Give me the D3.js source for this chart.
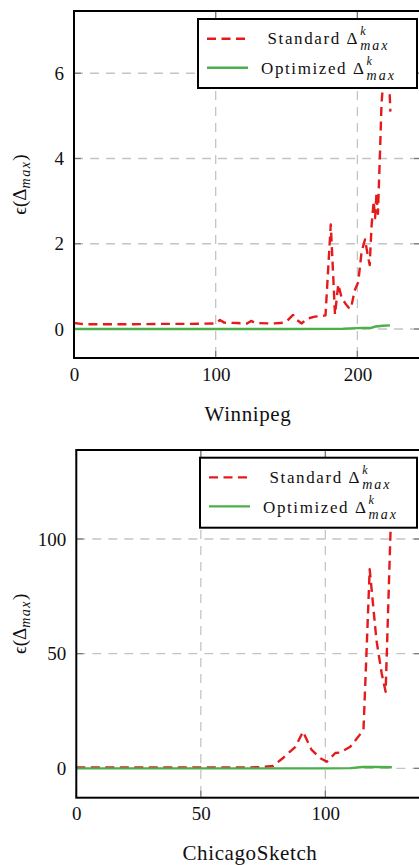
<!DOCTYPE html>
<html>
<head>
<meta charset="utf-8">
<script src="https://cdn.jsdelivr.net/npm/d3@7"></script>
<style>
  html, body { margin: 0; padding: 0; background: #fff; }
  svg { display: block; }
</style>
</head>
<body>
<svg id="chart" width="419" height="865"></svg>
<script>
// ---- Winnipeg ----
const winStdX = [0, 5, 10, 20, 40, 60, 80, 100, 103, 106, 115, 122, 125, 128, 140, 146, 150, 154.6, 157, 160.7, 164.2, 170, 173.6, 177.5, 181.2, 183, 184.2, 186.5, 188.9, 191.5, 193.9, 195.5, 198, 200.6, 203, 205.4, 207.5, 208.7, 210, 211.5, 212.5, 213.5, 214.5, 215.3, 216, 217, 219, 221, 222, 223.3];
const winStdY = [0.14, 0.12, 0.11, 0.11, 0.11, 0.12, 0.12, 0.13, 0.21, 0.15, 0.14, 0.13, 0.19, 0.14, 0.13, 0.14, 0.18, 0.33, 0.22, 0.13, 0.24, 0.29, 0.3, 0.32, 2.45, 1.2, 0.34, 1.05, 0.73, 0.6, 0.5, 0.48, 0.9, 1.1, 1.82, 2.1, 1.7, 1.5, 2.41, 3.0, 2.6, 3.2, 2.7, 3.5, 4.17, 5.26, 6.2, 6.78, 6.2, 5.1];
const winOptX = [0, 50, 100, 150, 190, 200, 205, 210, 213, 218, 223];
const winOptY = [0, 0, 0, 0, 0.005, 0.02, 0.025, 0.03, 0.06, 0.075, 0.085];
const winXTicks = [0, 100, 200];
const winYTicks = [0, 2, 4, 6];

// ---- ChicagoSketch ----
const chiStdX = [0, 10, 20, 30, 40, 50, 60, 70, 75, 79, 83, 88, 91, 94.5, 98, 100.6, 104, 106, 110, 115.3, 116.5, 117.8, 120.5, 122.6, 124.2, 126.8];
const chiStdY = [0.4, 0.4, 0.4, 0.4, 0.4, 0.4, 0.4, 0.4, 0.6, 1.0, 4.5, 9.4, 16, 8, 4.4, 2.9, 6.7, 6.9, 9.4, 16.7, 50, 86.8, 56, 41.5, 33.4, 126];
const chiOptX = [0, 50, 100, 110, 115, 120, 126.7];
const chiOptY = [0, 0, 0, 0.1, 0.6, 0.6, 0.5];
const chiXTicks = [0, 50, 100];
const chiYTicks = [0, 50, 100];

const seriesNames = ["Standard", "Optimized"];
const RED = "#e41a1c", GREEN = "#4daf4a";
const FONT = "'Liberation Serif', 'DejaVu Serif', serif";

const svg = d3.select("#chart");

function panel(cfg) {
  const g = svg.append("g");
  const x = d3.scaleLinear().domain(cfg.xDomain).range([cfg.left, cfg.right]);
  const y = d3.scaleLinear().domain(cfg.yDomain).range([cfg.bottom, cfg.top]);

  // grid
  g.selectAll(".gx").data(cfg.xTicks.filter(d => d > cfg.xDomain[0])).enter().append("line")
    .attr("x1", d => x(d)).attr("x2", d => x(d)).attr("y1", cfg.top).attr("y2", cfg.bottom)
    .attr("stroke", "#c4c4c4").attr("stroke-width", 1.3).attr("stroke-dasharray", "9,7");
  g.selectAll(".gy").data(cfg.yTicks).enter().append("line")
    .attr("x1", cfg.left).attr("x2", cfg.right).attr("y1", d => y(d)).attr("y2", d => y(d))
    .attr("stroke", "#c4c4c4").attr("stroke-width", 1.3).attr("stroke-dasharray", "9,7");

  // inward tick marks on all four sides
  const tl = 7;
  cfg.xTicks.forEach(d => {
    g.append("line").attr("x1", x(d)).attr("x2", x(d)).attr("y1", cfg.bottom).attr("y2", cfg.bottom - tl)
      .attr("stroke", "#777").attr("stroke-width", 1.2);
    g.append("line").attr("x1", x(d)).attr("x2", x(d)).attr("y1", cfg.top).attr("y2", cfg.top + tl)
      .attr("stroke", "#777").attr("stroke-width", 1.2);
  });
  cfg.yTicks.forEach(d => {
    g.append("line").attr("x1", cfg.left).attr("x2", cfg.left + tl).attr("y1", y(d)).attr("y2", y(d))
      .attr("stroke", "#777").attr("stroke-width", 1.2);
    g.append("line").attr("x1", cfg.right).attr("x2", cfg.right - tl).attr("y1", y(d)).attr("y2", y(d))
      .attr("stroke", "#777").attr("stroke-width", 1.2);
  });

  // data
  const clipId = "clip" + cfg.id;
  svg.append("clipPath").attr("id", clipId).append("rect")
    .attr("x", cfg.left).attr("y", cfg.top).attr("width", cfg.right - cfg.left).attr("height", cfg.bottom - cfg.top);
  const line = d3.line().x(d => x(d[0])).y(d => y(d[1]));
  const std = d3.zip(cfg.stdX, cfg.stdY);
  const opt = d3.zip(cfg.optX, cfg.optY);
  const dg = g.append("g").attr("clip-path", `url(#${clipId})`);
  dg.append("path").attr("d", line(std)).attr("fill", "none").attr("stroke", RED)
    .attr("stroke-width", 2.4).attr("stroke-dasharray", "9,5.5").attr("stroke-linejoin", "round");
  dg.append("path").attr("d", line(opt)).attr("fill", "none").attr("stroke", GREEN)
    .attr("stroke-width", 2.4).attr("stroke-linejoin", "round");

  // frame
  g.append("rect").attr("x", cfg.left).attr("y", cfg.top)
    .attr("width", cfg.right - cfg.left).attr("height", cfg.bottom - cfg.top)
    .attr("fill", "none").attr("stroke", "#000").attr("stroke-width", 2);

  // tick labels
  const ax = g.append("g").attr("transform", `translate(0,${cfg.bottom})`)
    .call(d3.axisBottom(x).tickValues(cfg.xTicks).tickSize(0).tickPadding(cfg.xPad).tickFormat(d3.format("d")));
  ax.select(".domain").remove();
  ax.selectAll("text").style("font-family", FONT).style("font-size", "19px").attr("fill", "#111");
  const ay = g.append("g").attr("transform", `translate(${cfg.left},0)`)
    .call(d3.axisLeft(y).tickValues(cfg.yTicks).tickSize(0).tickPadding(10).tickFormat(d3.format("d")));
  ay.select(".domain").remove();
  ay.selectAll("text").style("font-family", FONT).style("font-size", "19px").attr("fill", "#111");

  // x label
  g.append("text").attr("x", cfg.xLabelX).attr("y", cfg.xLabelY).attr("text-anchor", "middle")
    .style("font-family", FONT).style("font-size", "21px").attr("letter-spacing", 0.6)
    .attr("fill", "#111").text(cfg.name);

  // y label ϵ(Δ_max)
  const yl = g.append("text").attr("transform", `translate(26,${(cfg.top + cfg.bottom) / 2}) rotate(-90)`)
    .attr("text-anchor", "middle").style("font-family", FONT).style("font-size", "19px").attr("fill", "#111");
  yl.append("tspan").text("ϵ(Δ");
  yl.append("tspan").attr("dy", 4).style("font-size", "14px").attr("font-style", "italic")
    .attr("letter-spacing", 1.5).text("max");
  yl.append("tspan").attr("dy", -4).text(")");

  // legend
  const L = cfg.legend;
  const lg = g.append("g");
  lg.append("rect").attr("x", L.x).attr("y", L.y).attr("width", L.w).attr("height", L.h)
    .attr("fill", "#fff").attr("stroke", "#000").attr("stroke-width", 2);
  const rows = [
    { name: seriesNames[0], color: RED, dash: "9,5.5", ly: 19.7, ty: 25 },
    { name: seriesNames[1], color: GREEN, dash: null, ly: 48.7, ty: 55 }
  ];
  rows.forEach(r => {
    lg.append("line").attr("x1", L.x + 9).attr("x2", L.x + 50)
      .attr("y1", L.y + r.ly).attr("y2", L.y + r.ly)
      .attr("stroke", r.color).attr("stroke-width", 2.4)
      .attr("stroke-dasharray", r.dash);
    const t = lg.append("text").attr("x", 0).attr("y", L.y + r.ty)
      .style("font-family", FONT).style("font-size", "17px").attr("fill", "#111");
    const main = t.append("tspan").attr("letter-spacing", 1.6).text(r.name + " Δ");
    const w = main.node().getComputedTextLength() + 1;
    t.append("tspan").attr("x", w).attr("dy", -9).style("font-size", "12px")
      .attr("font-style", "italic").text("k");
    const sub = t.append("tspan").attr("x", w).attr("dy", 15).style("font-size", "14px")
      .attr("font-style", "italic").attr("letter-spacing", 2).text("max");
    const total = w + sub.node().getComputedTextLength();
    t.attr("transform", `translate(${L.x + 130.5 - total / 2},0)`);
  });
}

panel({
  id: "win", name: "Winnipeg",
  left: 74, right: 421, top: 11, bottom: 358,
  xDomain: [0, 244.9], yDomain: [-0.68, 7.46],
  xTicks: winXTicks, yTicks: winYTicks,
  stdX: winStdX, stdY: winStdY, optX: winOptX, optY: winOptY,
  xPad: 10, xLabelX: 248, xLabelY: 421,
  legend: { x: 198, y: 19, w: 219, h: 69 }
});

panel({
  id: "chi", name: "ChicagoSketch",
  left: 76.3, right: 421, top: 450, bottom: 797.7,
  xDomain: [0, 138.4], yDomain: [-12.8, 138.8],
  xTicks: chiXTicks, yTicks: chiYTicks,
  stdX: chiStdX, stdY: chiStdY, optX: chiOptX, optY: chiOptY,
  xPad: 9, xLabelX: 250, xLabelY: 860,
  legend: { x: 200, y: 457.7, w: 217, h: 70 }
});
</script>
</body>
</html>
